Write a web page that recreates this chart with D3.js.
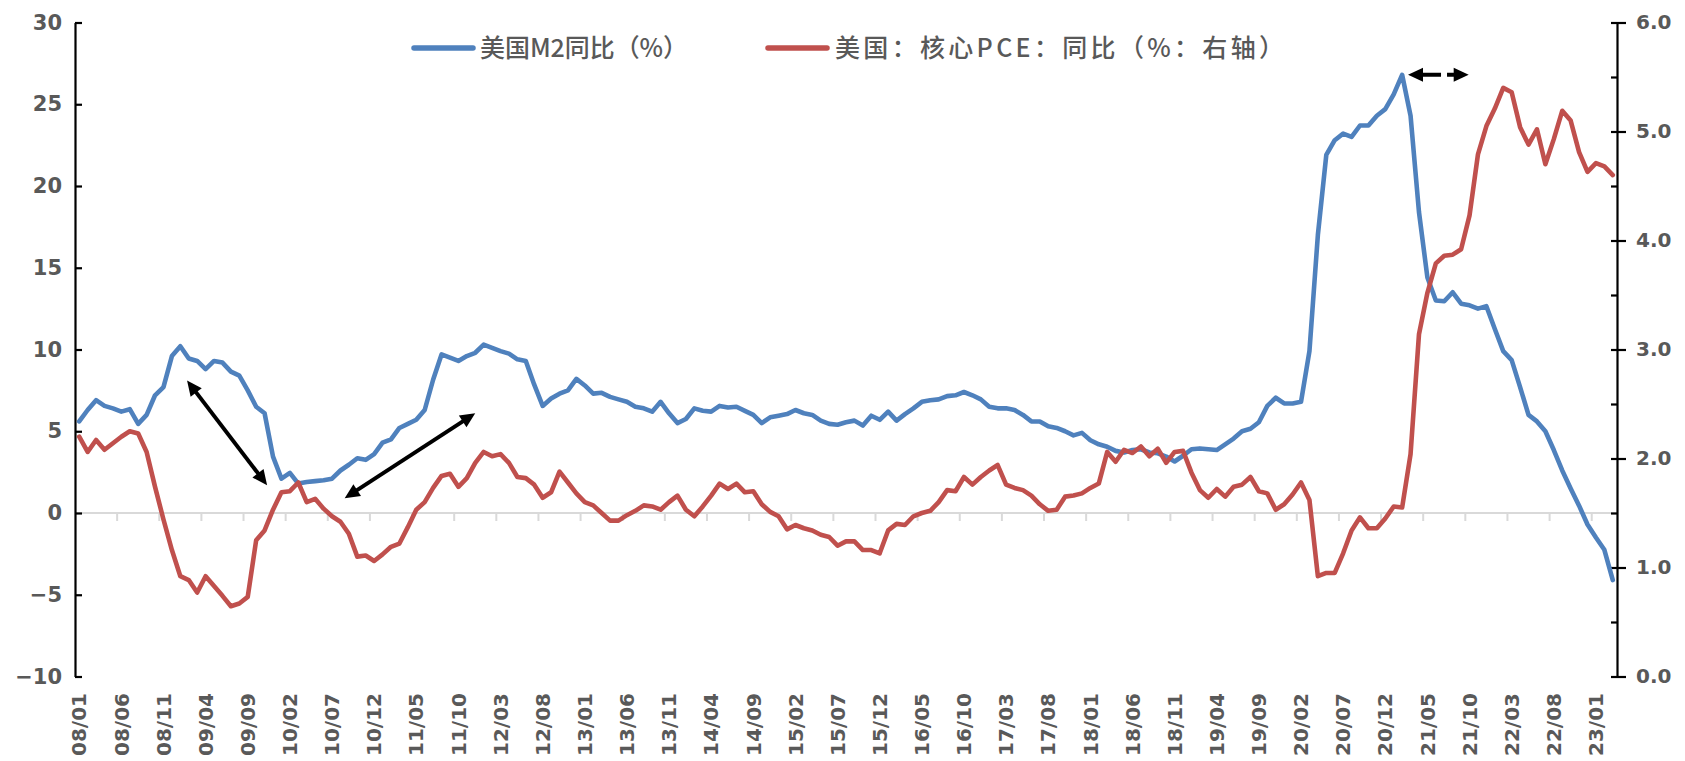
<!DOCTYPE html>
<html><head><meta charset="utf-8">
<script src="https://cdn.jsdelivr.net/npm/d3@7"></script>
<style>body{margin:0;background:#fff;} svg{display:block;}</style>
</head><body>
<svg id="chart" width="1685" height="761"></svg>
<script>
// ---------- data ----------
const startYear = 2008, startMonth = 1, monthCount = 183; // 2008/01 .. 2023/03
const tickLabels = ["08/01","08/06","08/11","09/04","09/09","10/02","10/07","10/12","11/05","11/10",
  "12/03","12/08","13/01","13/06","13/11","14/04","14/09","15/02","15/07","15/12","16/05","16/10",
  "17/03","17/08","18/01","18/06","18/11","19/04","19/09","20/02","20/07","20/12","21/05","21/10",
  "22/03","22/08","23/01"];
const seriesNames = ["美国M2同比（%）", "美国：核心PCE：同比（%：右轴）"];
const m2Values = [
  5.6,6.3,6.9,6.55,6.4,6.2,6.35,5.45,6.0,7.2,
  7.7,9.6,10.2,9.45,9.3,8.8,9.3,9.2,8.65,8.4,
  7.5,6.5,6.1,3.45,2.1,2.45,1.8,1.9,1.95,2.0,
  2.1,2.6,2.95,3.35,3.25,3.6,4.3,4.5,5.2,5.45,
  5.7,6.3,8.15,9.7,9.5,9.3,9.6,9.8,10.3,10.1,
  9.9,9.75,9.4,9.3,7.85,6.55,7.0,7.3,7.5,8.2,
  7.8,7.3,7.35,7.1,6.95,6.8,6.5,6.4,6.2,6.8,
  6.1,5.5,5.75,6.4,6.25,6.2,6.55,6.45,6.5,6.25,
  6.0,5.5,5.85,5.95,6.05,6.3,6.1,6.0,5.65,5.45,
  5.4,5.55,5.65,5.35,5.95,5.7,6.2,5.65,6.05,6.4,
  6.8,6.9,6.95,7.15,7.2,7.4,7.2,6.95,6.5,6.4,
  6.4,6.3,6.0,5.6,5.6,5.3,5.2,5.0,4.75,4.9,
  4.45,4.2,4.05,3.8,3.7,3.85,3.9,3.7,3.65,3.45,
  3.15,3.5,3.9,3.95,3.9,3.85,4.2,4.55,5.0,5.15,
  5.55,6.55,7.05,6.7,6.7,6.8,9.9,17.0,21.9,22.8,
  23.2,23.0,23.7,23.7,24.3,24.7,25.6,26.8,24.3,18.4,
  14.4,13.0,12.95,13.5,12.8,12.7,12.5,12.65,11.25,9.9,
  9.35,7.7,6.0,5.6,5.0,3.85,2.6,1.5,0.45,-0.7,
  -1.5,-2.25,-4.1
];
const pceValues = [
  2.2,2.06,2.17,2.08,2.14,2.2,2.25,2.23,2.06,1.74,
  1.44,1.16,0.92,0.885,0.77,0.92,0.83,0.74,0.645,0.67,
  0.73,1.25,1.34,1.53,1.69,1.70,1.78,1.60,1.63,1.54,
  1.47,1.42,1.31,1.10,1.11,1.06,1.12,1.19,1.22,1.37,
  1.53,1.60,1.73,1.84,1.86,1.74,1.82,1.96,2.06,2.02,
  2.04,1.96,1.83,1.82,1.76,1.64,1.69,1.88,1.78,1.68,
  1.60,1.57,1.50,1.43,1.43,1.48,1.52,1.57,1.56,1.53,
  1.60,1.66,1.53,1.47,1.56,1.66,1.77,1.72,1.77,1.69,
  1.70,1.58,1.51,1.47,1.35,1.39,1.36,1.34,1.30,1.28,
  1.20,1.24,1.24,1.16,1.16,1.13,1.34,1.40,1.39,1.47,
  1.50,1.52,1.60,1.71,1.70,1.83,1.76,1.83,1.89,1.94,
  1.76,1.73,1.71,1.66,1.58,1.52,1.53,1.65,1.66,1.68,
  1.73,1.77,2.06,1.97,2.08,2.05,2.11,2.02,2.09,1.96,
  2.06,2.07,1.87,1.71,1.64,1.72,1.65,1.74,1.76,1.83,
  1.70,1.68,1.53,1.58,1.67,1.78,1.62,0.92,0.95,0.95,
  1.13,1.34,1.46,1.36,1.36,1.45,1.56,1.55,2.04,3.14,
  3.52,3.79,3.86,3.87,3.92,4.23,4.79,5.05,5.21,5.40,
  5.36,5.04,4.88,5.02,4.70,4.93,5.19,5.10,4.81,4.63,
  4.71,4.68,4.60
];
const leftTicks = [-10,-5,0,5,10,15,20,25,30];
const rightTicks = [0,1,2,3,4,5,6];
const rightMinorTicks = [0.5,1.5,2.5,3.5,4.5,5.5];
// annotation arrows in data coordinates: [month index, left-axis value]
const arrows = [
  {from:[12.8, 8.1], to:[22.3, 1.7], dashed:false},
  {from:[31.5, 0.9], to:[47.0, 6.1], dashed:false},
  {from:[157.7, 26.8], to:[164.9, 26.8], dashed:true}
];

// categories (month labels YY/MM)
const months = [];
for (let k = 0; k < monthCount; k++) {
  const t = (startMonth - 1) + k;
  const yy = (startYear + Math.floor(t / 12)) % 100, mm = t % 12 + 1;
  months.push(String(yy).padStart(2,"0") + "/" + String(mm).padStart(2,"0"));
}

// ---------- layout ----------
const L = 75, R = 1617, T = 22.5, B = 676.5;
const svg = d3.select("#chart");
const blue = "#4f81bd", red = "#c0504d", grey = "#595959";
const tickFont = "'DejaVu Sans', Verdana, sans-serif";

const x = d3.scaleBand().domain(months).range([L, R]).padding(0);
const bw = x.bandwidth();
const xi = d3.scaleLinear().domain([0, monthCount]).range([L, R]); // index -> boundary position
const yL = d3.scaleLinear().domain([-10, 30]).range([B, T]);
const yR = d3.scaleLinear().domain([0, 6]).range([B, T]);
const cx = m => x(m) + bw / 2;

// zero line (category axis)
svg.append("line").attr("x1", L).attr("x2", R).attr("y1", yL(0)).attr("y2", yL(0))
  .attr("stroke", "#d9d9d9").attr("stroke-width", 2);
const boundaryIdx = d3.range(5, monthCount, 5);
svg.append("g").selectAll("line").data(boundaryIdx).join("line")
  .attr("x1", d => xi(d)).attr("x2", d => xi(d))
  .attr("y1", yL(0)).attr("y2", yL(0) + 8)
  .attr("stroke", "#d9d9d9").attr("stroke-width", 2);

// x labels at bottom
svg.append("g").selectAll("text").data(tickLabels).join("text")
  .attr("transform", d => `translate(${cx(d)},693) rotate(-90)`)
  .attr("text-anchor", "end").attr("dy", "0.36em")
  .attr("font-family", tickFont).attr("font-weight", "bold").attr("font-size", 20)
  .attr("fill", grey).text(d => d);

// left axis
const gL = svg.append("g").attr("transform", `translate(${L},0)`)
  .call(d3.axisLeft(yL).tickValues(leftTicks).tickSizeInner(-7).tickSizeOuter(0).tickPadding(13));
gL.select(".domain").attr("stroke", "#000").attr("stroke-width", 2.2);
gL.selectAll(".tick line").attr("stroke", "#000").attr("stroke-width", 2.2);
gL.selectAll(".tick text").attr("font-family", tickFont).attr("font-weight", "bold")
  .attr("font-size", 21).attr("fill", grey);

// right axis
const gR = svg.append("g").attr("transform", `translate(${R},0)`)
  .call(d3.axisRight(yR).tickValues(rightTicks).tickFormat(d3.format(".1f"))
    .tickSizeInner(9).tickSizeOuter(0).tickPadding(10));
gR.select(".domain").attr("stroke", "#000").attr("stroke-width", 2.2);
gR.selectAll(".tick line").attr("stroke", "#000").attr("stroke-width", 2.2);
gR.selectAll(".tick text").attr("font-family", tickFont).attr("font-weight", "bold")
  .attr("font-size", 20).attr("fill", grey);
const gR2 = svg.append("g").attr("transform", `translate(${R},0)`)
  .call(d3.axisLeft(yR).tickValues(rightTicks.concat(rightMinorTicks)).tickSizeInner(6).tickSizeOuter(0).tickFormat(""));
gR2.select(".domain").remove();
gR2.selectAll(".tick line").attr("stroke", "#000").attr("stroke-width", 2.2);

// series lines
const lineM2 = d3.line().x((d, i) => cx(months[i])).y(d => yL(d));
const linePce = d3.line().x((d, i) => cx(months[i])).y(d => yR(d));
svg.append("path").datum(m2Values).attr("d", lineM2).attr("fill", "none")
  .attr("stroke", blue).attr("stroke-width", 4.6).attr("stroke-linejoin", "round").attr("stroke-linecap", "round");
svg.append("path").datum(pceValues).attr("d", linePce).attr("fill", "none")
  .attr("stroke", red).attr("stroke-width", 4.6).attr("stroke-linejoin", "round").attr("stroke-linecap", "round");

// arrows
const px = i => xi(i + 0.5);
const ga = svg.append("g");
arrows.forEach(a => {
  const x0 = px(a.from[0]), y0 = yL(a.from[1]), x1 = px(a.to[0]), y1 = yL(a.to[1]);
  const len = Math.hypot(x1 - x0, y1 - y0), ux = (x1 - x0) / len, uy = (y1 - y0) / len;
  const hl = 15, hw = 7;
  ga.append("line").attr("x1", x0 + ux * (hl - 2)).attr("y1", y0 + uy * (hl - 2))
    .attr("x2", x1 - ux * (hl - 2)).attr("y2", y1 - uy * (hl - 2))
    .attr("stroke", "#000").attr("stroke-width", 4)
    .attr("stroke-dasharray", a.dashed ? "20,6" : null);
  const head = (tx, ty, dx, dy) => {
    const bx = tx - dx * hl, by = ty - dy * hl;
    return `M${tx},${ty}L${bx - dy * hw},${by + dx * hw}L${bx + dy * hw},${by - dx * hw}Z`;
  };
  ga.append("path").attr("d", head(x1, y1, ux, uy)).attr("fill", "#000");
  ga.append("path").attr("d", head(x0, y0, -ux, -uy)).attr("fill", "#000");
});

// legend
const legend = [
  {name: seriesNames[0], color: blue, x1: 414, x2: 473, tx: 480, tl: 208},
  {name: seriesNames[1], color: red, x1: 768, x2: 827, tx: 835, tl: 449}
];
const lg = svg.append("g");
legend.forEach(d => {
  lg.append("line").attr("x1", d.x1).attr("x2", d.x2).attr("y1", 48).attr("y2", 48)
    .attr("stroke", d.color).attr("stroke-width", 5.5).attr("stroke-linecap", "round");
  lg.append("text").attr("x", d.tx).attr("y", 48).attr("dy", "0.36em")
    .attr("font-family", "'Noto Sans CJK SC', sans-serif").attr("font-size", 25).attr("font-weight", 500)
    .attr("fill", grey).attr("textLength", d.tl).attr("lengthAdjust", "spacing").text(d.name);
});
</script>
</body></html>
